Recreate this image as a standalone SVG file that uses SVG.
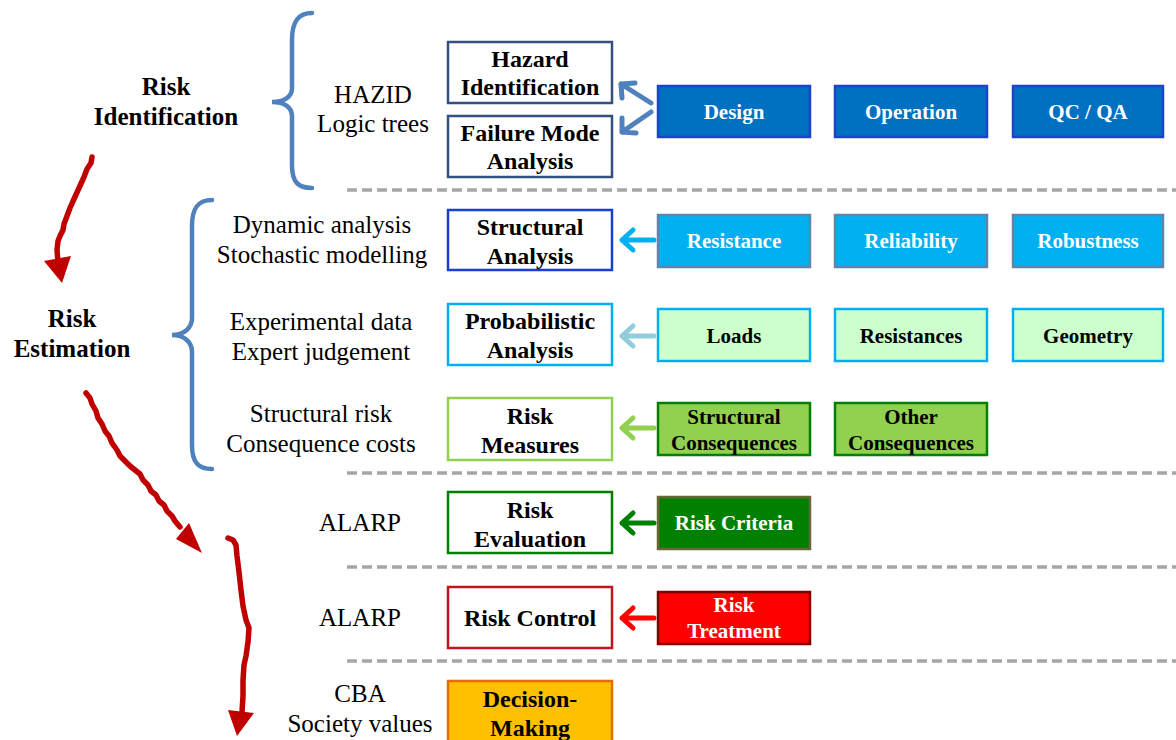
<svg xmlns="http://www.w3.org/2000/svg" width="1176" height="740" viewBox="0 0 1176 740">
  <style>
    .lbl { font-family: "Liberation Serif", "Times New Roman", serif; font-size: 25px; fill: #000; text-anchor: middle; }
    .lblb { font-family: "Liberation Serif", "Times New Roman", serif; font-size: 25px; font-weight: bold; fill: #000; text-anchor: middle; }
    .bt { font-family: "Liberation Serif", "Times New Roman", serif; font-size: 24px; font-weight: bold; fill: #000; text-anchor: middle; }
    .st { font-family: "Liberation Serif", "Times New Roman", serif; font-size: 21px; font-weight: bold; text-anchor: middle; }
    .w { fill: #fff; }
    .k { fill: #000; }
    .big { fill: #fff; stroke-width: 2.5; }
    .sm { stroke-width: 2.5; }
    .brace { fill: none; stroke: #4f81bd; stroke-width: 4.5; stroke-linecap: round; }
    .sep { stroke: #a6a6a6; stroke-width: 3.5; stroke-dasharray: 10 5; fill: none; }
    .arr { fill: none; stroke-width: 5; stroke-linecap: round; stroke-linejoin: round; }
    .flow { fill: none; stroke: #c00000; stroke-width: 5.5; stroke-linecap: round; stroke-linejoin: round; }
    .head { fill: #c00000; }
  </style>

  <!-- section separators -->
  <g id="separators">
    <line class="sep" x1="347" y1="190" x2="1176" y2="190"/>
    <line class="sep" x1="347" y1="473" x2="1176" y2="473"/>
    <line class="sep" x1="347" y1="567" x2="1176" y2="567"/>
    <line class="sep" x1="347" y1="661" x2="1176" y2="661"/>
  </g>

  <!-- curly braces -->
  <g id="braces">
    <path class="brace" d="M312,13 C298,13 292,22 292,40 L292,88 C292,97 284,102 272,102 C284,102 292,107 292,116 L292,165 C292,182 298,188 312,188"/>
    <path class="brace" d="M212,200 C198,200 192,208 192,226 L192,318 C192,328 184,335 172,335 C184,335 192,342 192,352 L192,445 C192,462 198,469 212,469"/>
  </g>

  <!-- left stage labels -->
  <g id="stage-identification">
    <text class="lblb" x="166" y="95">Risk</text>
    <text class="lblb" x="166" y="125">Identification</text>
  </g>
  <g id="stage-estimation">
    <text class="lblb" x="72" y="327">Risk</text>
    <text class="lblb" x="72" y="357">Estimation</text>
  </g>

  <!-- method labels -->
  <g id="methods">
    <text class="lbl" x="373" y="103">HAZID</text>
    <text class="lbl" x="373" y="132">Logic trees</text>
    <text class="lbl" x="322" y="233">Dynamic analysis</text>
    <text class="lbl" x="322" y="263">Stochastic modelling</text>
    <text class="lbl" x="321" y="330">Experimental data</text>
    <text class="lbl" x="321" y="360">Expert judgement</text>
    <text class="lbl" x="321" y="422">Structural risk</text>
    <text class="lbl" x="321" y="452">Consequence costs</text>
    <text class="lbl" x="360" y="531">ALARP</text>
    <text class="lbl" x="360" y="626">ALARP</text>
    <text class="lbl" x="360" y="702">CBA</text>
    <text class="lbl" x="360" y="732">Society values</text>
  </g>

  <!-- process steps -->
  <g id="hazard-identification">
    <rect class="big" x="448" y="42" width="164" height="61" stroke="#33507f"/>
    <text class="bt" x="530" y="67">Hazard</text>
    <text class="bt" x="530" y="95">Identification</text>
  </g>
  <g id="failure-mode-analysis">
    <rect class="big" x="448" y="116" width="164" height="61" stroke="#33507f"/>
    <text class="bt" x="530" y="141">Failure Mode</text>
    <text class="bt" x="530" y="169">Analysis</text>
  </g>
  <g id="structural-analysis">
    <rect class="big" x="448" y="210" width="164" height="60" stroke="#1a3fcf"/>
    <text class="bt" x="530" y="235">Structural</text>
    <text class="bt" x="530" y="264">Analysis</text>
  </g>
  <g id="probabilistic-analysis">
    <rect class="big" x="448" y="304" width="164" height="61" stroke="#00b0f0"/>
    <text class="bt" x="530" y="329">Probabilistic</text>
    <text class="bt" x="530" y="358">Analysis</text>
  </g>
  <g id="risk-measures">
    <rect class="big" x="448" y="398" width="164" height="62" stroke="#92d050"/>
    <text class="bt" x="530" y="424">Risk</text>
    <text class="bt" x="530" y="453">Measures</text>
  </g>
  <g id="risk-evaluation">
    <rect class="big" x="448" y="492" width="164" height="61" stroke="#008000"/>
    <text class="bt" x="530" y="518">Risk</text>
    <text class="bt" x="530" y="547">Evaluation</text>
  </g>
  <g id="risk-control">
    <rect class="big" x="448" y="587" width="164" height="61" stroke="#c0141c"/>
    <text class="bt" x="530" y="626">Risk Control</text>
  </g>
  <g id="decision-making">
    <rect class="sm" x="448" y="681" width="164" height="80" fill="#ffc000" stroke="#e46c0a"/>
    <text class="bt" x="530" y="707">Decision-</text>
    <text class="bt" x="530" y="736">Making</text>
  </g>

  <!-- inputs -->
  <g id="design">
    <rect class="sm" x="658" y="86" width="152" height="51" fill="#0070c0" stroke="#1c44c8"/>
    <text class="st w" x="734" y="119">Design</text>
  </g>
  <g id="operation">
    <rect class="sm" x="835" y="86" width="152" height="51" fill="#0070c0" stroke="#1c44c8"/>
    <text class="st w" x="911" y="119">Operation</text>
  </g>
  <g id="qc-qa">
    <rect class="sm" x="1013" y="86" width="150" height="51" fill="#0070c0" stroke="#1c44c8"/>
    <text class="st w" x="1088" y="119">QC / QA</text>
  </g>

  <g id="resistance">
    <rect class="sm" x="658" y="215" width="152" height="52" fill="#00b0f0" stroke="#6483a8"/>
    <text class="st w" x="734" y="248">Resistance</text>
  </g>
  <g id="reliability">
    <rect class="sm" x="835" y="215" width="152" height="52" fill="#00b0f0" stroke="#6483a8"/>
    <text class="st w" x="911" y="248">Reliability</text>
  </g>
  <g id="robustness">
    <rect class="sm" x="1013" y="215" width="150" height="52" fill="#00b0f0" stroke="#6483a8"/>
    <text class="st w" x="1088" y="248">Robustness</text>
  </g>

  <g id="loads">
    <rect class="sm" x="658" y="309" width="152" height="52" fill="#ccffcc" stroke="#00b0f0"/>
    <text class="st k" x="734" y="343">Loads</text>
  </g>
  <g id="resistances">
    <rect class="sm" x="835" y="309" width="152" height="52" fill="#ccffcc" stroke="#00b0f0"/>
    <text class="st k" x="911" y="343">Resistances</text>
  </g>
  <g id="geometry">
    <rect class="sm" x="1013" y="309" width="150" height="52" fill="#ccffcc" stroke="#00b0f0"/>
    <text class="st k" x="1088" y="343">Geometry</text>
  </g>

  <g id="structural-consequences">
    <rect class="sm" x="658" y="403" width="152" height="52" fill="#92d050" stroke="#008000"/>
    <text class="st k" x="734" y="424">Structural</text>
    <text class="st k" x="734" y="450">Consequences</text>
  </g>
  <g id="other-consequences">
    <rect class="sm" x="835" y="403" width="152" height="52" fill="#92d050" stroke="#008000"/>
    <text class="st k" x="911" y="424">Other</text>
    <text class="st k" x="911" y="450">Consequences</text>
  </g>

  <g id="risk-criteria">
    <rect class="sm" x="658" y="497" width="152" height="52" fill="#008000" stroke="#6d6437"/>
    <text class="st w" x="734" y="530">Risk Criteria</text>
  </g>
  <g id="risk-treatment">
    <rect class="sm" x="658" y="592" width="152" height="52" fill="#ff0000" stroke="#800000"/>
    <text class="st w" x="734" y="612">Risk</text>
    <text class="st w" x="734" y="638">Treatment</text>
  </g>

  <!-- connectors -->
  <g id="connectors">
    <path class="arr" stroke="#4f81bd" stroke-width="6" d="M651,103 L621,84 M622,98 L621,84 L635,83"/>
    <path class="arr" stroke="#4f81bd" stroke-width="6" d="M651,112 L622,132 M636,133 L622,132 L622,118"/>
    <path class="arr" stroke="#00b0f0" d="M654,240 L622,240 M633,230 L622,240 L633,250"/>
    <path class="arr" stroke="#92cddc" d="M654,336 L622,336 M633,326 L622,336 L633,346"/>
    <path class="arr" stroke="#92d050" d="M654,428 L622,428 M633,418 L622,428 L633,438"/>
    <path class="arr" stroke="#008000" d="M654,523 L622,523 M633,513 L622,523 L633,533"/>
    <path class="arr" stroke="#ff0000" d="M654,618 L622,618 M633,608 L622,618 L633,628"/>

    <!-- hand-drawn process flow -->
    <path class="flow" d="M92,157 L91,163 L87,169 L84,177 L79,188 L74,199 L70,208 L67,216 L64,224 L63,230 L60,236 L58,241 L57,250 L58,262"/>
    <polygon class="head" points="44,261 71,256 62,283"/>
    <path class="flow" d="M86,393 L90,398 L92,404 L96,411 L98,418 L102,424 L105,431 L109,436 L112,443 L117,450 L120,456 L125,461 L130,466 L135,470 L140,474 L143,480 L148,485 L151,491 L156,495 L159,501 L164,505 L167,511 L172,516 L175,521 L180,527"/>
    <polygon class="head" points="176,539 189,523 202,553"/>
    <path class="flow" d="M228,538 L233,540 L236,545 L237,556 L239,572 L241,590 L243,606 L246,620 L249,628 L248,642 L246,656 L244,665 L243,680 L243,696 L242,712"/>
    <polygon class="head" points="228,710 254,713 237,736"/>
  </g>
</svg>
